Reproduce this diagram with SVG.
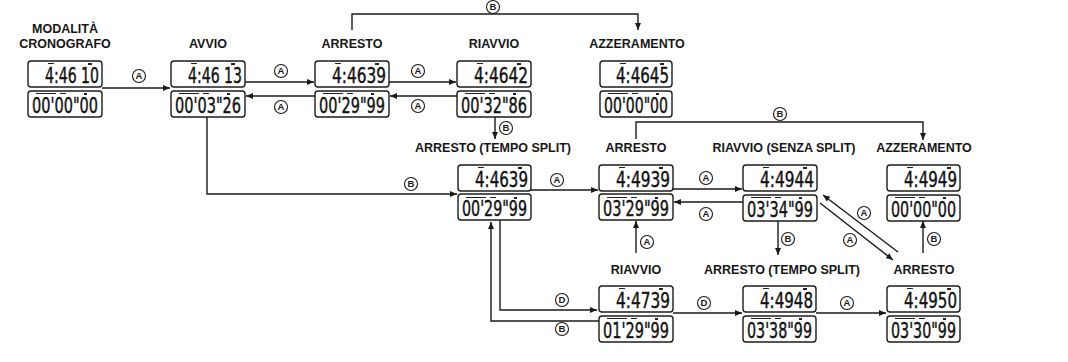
<svg xmlns="http://www.w3.org/2000/svg" width="1068" height="362" viewBox="0 0 1068 362">
<style>
.lbl{font-family:"Liberation Sans",Arial,sans-serif;font-weight:bold;font-size:12.5px;fill:#161616;text-anchor:middle}
.lcd{fill:#fff;stroke:#1c1c1c;stroke-width:1.4}
.dg{font-family:"DejaVu Sans Condensed","DejaVu Sans",sans-serif;font-size:21px;fill:#111;stroke:#111;stroke-width:0.4}
.ind{stroke:#222;stroke-width:1;fill:none}
.dot{fill:#222}
.ln{fill:none;stroke:#1a1a1a;stroke-width:1.4}
.bc{fill:#fff;stroke:#1a1a1a;stroke-width:1.1}
.bt{font-family:"Liberation Sans",Arial,sans-serif;font-size:9.5px;font-weight:bold;fill:#1a1a1a;text-anchor:middle}
</style>
<defs>
<marker id="ar" markerWidth="8" markerHeight="8" refX="7" refY="4" orient="auto" markerUnits="userSpaceOnUse">
<path d="M0,1 L7,4 L0,7 Z" fill="#1a1a1a"/>
</marker>
<g id="upind"><path class="ind" d="M20,2.5 h6"/><rect class="dot" x="60" y="2" width="4" height="2"/></g>
<g id="loind"><path class="ind" d="M8,32.5 h20 M32,32.5 h6"/><rect class="dot" x="56" y="32" width="3" height="2"/></g>
</defs>

<g id="connectors">
<path class="ln" marker-end="url(#ar)" d="M102,88 H170"/>
<path class="ln" marker-end="url(#ar)" d="M245,82 H314"/>
<path class="ln" marker-end="url(#ar)" d="M315,96 H246"/>
<path class="ln" marker-end="url(#ar)" d="M389,82 H456"/>
<path class="ln" marker-end="url(#ar)" d="M457,96 H390"/>
<path class="ln" marker-end="url(#ar)" d="M352,30 V14 H638 V30"/>
<path class="ln" marker-end="url(#ar)" d="M495,117 V139"/>
<path class="ln" marker-end="url(#ar)" d="M207,117 V194 H457"/>
<path class="ln" marker-end="url(#ar)" d="M531,190 H598"/>
<path class="ln" marker-end="url(#ar)" d="M636,139 V122 H923 V140"/>
<path class="ln" marker-end="url(#ar)" d="M673,189 H742"/>
<path class="ln" marker-end="url(#ar)" d="M743,202 H674"/>
<path class="ln" marker-end="url(#ar)" d="M778,220 V255"/>
<path class="ln" marker-end="url(#ar)" d="M820,203 L893,260"/>
<path class="ln" marker-end="url(#ar)" d="M898,252 L823,195"/>
<path class="ln" marker-end="url(#ar)" d="M923,253 V221"/>
<path class="ln" marker-end="url(#ar)" d="M636,253 V221"/>
<path class="ln" marker-end="url(#ar)" d="M500,220 V310 H597"/>
<path class="ln" marker-end="url(#ar)" d="M599,321 H491 V222"/>
<path class="ln" marker-end="url(#ar)" d="M673,313 H742"/>
<path class="ln" marker-end="url(#ar)" d="M816,313 H886"/>
<g id="btns">
<circle class="bc" cx="139" cy="76" r="6.5"/><text class="bt" x="139" y="79.4">A</text>
<circle class="bc" cx="281" cy="71" r="6.5"/><text class="bt" x="281" y="74.4">A</text>
<circle class="bc" cx="281" cy="107" r="6.5"/><text class="bt" x="281" y="110.4">A</text>
<circle class="bc" cx="418" cy="71" r="6.5"/><text class="bt" x="418" y="74.4">A</text>
<circle class="bc" cx="418" cy="106" r="6.5"/><text class="bt" x="418" y="109.4">A</text>
<circle class="bc" cx="493" cy="7" r="6.5"/><text class="bt" x="493" y="10.4">B</text>
<circle class="bc" cx="506" cy="128" r="6.5"/><text class="bt" x="506" y="131.4">B</text>
<circle class="bc" cx="411" cy="184" r="6.5"/><text class="bt" x="411" y="187.4">B</text>
<circle class="bc" cx="557" cy="180" r="6.5"/><text class="bt" x="557" y="183.4">A</text>
<circle class="bc" cx="780" cy="114" r="6.5"/><text class="bt" x="780" y="117.4">B</text>
<circle class="bc" cx="706" cy="178" r="6.5"/><text class="bt" x="706" y="181.4">A</text>
<circle class="bc" cx="706" cy="214" r="6.5"/><text class="bt" x="706" y="217.4">A</text>
<circle class="bc" cx="788" cy="239" r="6.5"/><text class="bt" x="788" y="242.4">B</text>
<circle class="bc" cx="850" cy="240" r="6.5"/><text class="bt" x="850" y="243.4">A</text>
<circle class="bc" cx="864" cy="213" r="6.5"/><text class="bt" x="864" y="216.4">A</text>
<circle class="bc" cx="934" cy="239" r="6.5"/><text class="bt" x="934" y="242.4">B</text>
<circle class="bc" cx="647" cy="242" r="6.5"/><text class="bt" x="647" y="245.4">A</text>
<circle class="bc" cx="562" cy="300" r="6.5"/><text class="bt" x="562" y="303.4">D</text>
<circle class="bc" cx="562" cy="329" r="6.5"/><text class="bt" x="562" y="332.4">B</text>
<circle class="bc" cx="704" cy="303" r="6.5"/><text class="bt" x="704" y="306.4">D</text>
<circle class="bc" cx="847" cy="303" r="6.5"/><text class="bt" x="847" y="306.4">A</text>
</g>
</g>

<g id="n1" transform="translate(28,61)">
<text class="lbl" x="37" y="-28">MODALITÀ</text><text class="lbl" x="37" y="-13">CRONOGRAFO</text>
<rect class="lcd" x="0" y="0" width="74" height="26" rx="3"/><use href="#upind"/>
<text class="dg" x="17" y="22" textLength="54" lengthAdjust="spacingAndGlyphs">4:46 10</text>
<rect class="lcd" x="0" y="30" width="74" height="26" rx="3"/><use href="#loind"/>
<text class="dg" x="4" y="52" textLength="66" lengthAdjust="spacingAndGlyphs">00'00"00</text>
</g>
<g id="n2" transform="translate(171,61)">
<text class="lbl" x="37" y="-13">AVVIO</text>
<rect class="lcd" x="0" y="0" width="74" height="26" rx="3"/><use href="#upind"/>
<text class="dg" x="17" y="22" textLength="54" lengthAdjust="spacingAndGlyphs">4:46 13</text>
<rect class="lcd" x="0" y="30" width="74" height="26" rx="3"/><use href="#loind"/>
<text class="dg" x="4" y="52" textLength="66" lengthAdjust="spacingAndGlyphs">00'03"26</text>
</g>
<g id="n3" transform="translate(315,61)">
<text class="lbl" x="37" y="-13">ARRESTO</text>
<rect class="lcd" x="0" y="0" width="74" height="26" rx="3"/><use href="#upind"/>
<text class="dg" x="17" y="22" textLength="54" lengthAdjust="spacingAndGlyphs">4:4639</text>
<rect class="lcd" x="0" y="30" width="74" height="26" rx="3"/><use href="#loind"/>
<text class="dg" x="4" y="52" textLength="66" lengthAdjust="spacingAndGlyphs">00'29"99</text>
</g>
<g id="n4" transform="translate(457,61)">
<text class="lbl" x="37" y="-13">RIAVVIO</text>
<rect class="lcd" x="0" y="0" width="74" height="26" rx="3"/><use href="#upind"/>
<text class="dg" x="17" y="22" textLength="54" lengthAdjust="spacingAndGlyphs">4:4642</text>
<rect class="lcd" x="0" y="30" width="74" height="26" rx="3"/><use href="#loind"/>
<text class="dg" x="4" y="52" textLength="66" lengthAdjust="spacingAndGlyphs">00'32"86</text>
</g>
<g id="n5" transform="translate(600,61)">
<text class="lbl" x="37" y="-13">AZZERAMENTO</text>
<rect class="lcd" x="0" y="0" width="72" height="26" rx="3"/><use href="#upind"/>
<text class="dg" x="16" y="22" textLength="53" lengthAdjust="spacingAndGlyphs">4:4645</text>
<rect class="lcd" x="0" y="30" width="72" height="26" rx="3"/><use href="#loind"/>
<text class="dg" x="4" y="52" textLength="64" lengthAdjust="spacingAndGlyphs">00'00"00</text>
</g>
<g id="n6" transform="translate(458,165)">
<text class="lbl" x="35" y="-13">ARRESTO (TEMPO SPLIT)</text>
<rect class="lcd" x="0" y="0" width="73" height="26" rx="3"/><use href="#upind"/>
<text class="dg" x="17" y="22" textLength="53" lengthAdjust="spacingAndGlyphs">4:4639</text>
<rect class="lcd" x="0" y="29" width="73" height="26" rx="3"/><use href="#loind"/>
<text class="dg" x="4" y="51" textLength="65" lengthAdjust="spacingAndGlyphs">00'29"99</text>
</g>
<g id="n7" transform="translate(599,165)">
<text class="lbl" x="37" y="-13">ARRESTO</text>
<rect class="lcd" x="0" y="0" width="74" height="26" rx="3"/><use href="#upind"/>
<text class="dg" x="17" y="22" textLength="54" lengthAdjust="spacingAndGlyphs">4:4939</text>
<rect class="lcd" x="0" y="29" width="74" height="26" rx="3"/><use href="#loind"/>
<text class="dg" x="4" y="51" textLength="66" lengthAdjust="spacingAndGlyphs">03'29"99</text>
</g>
<g id="n8" transform="translate(743,165)">
<text class="lbl" x="41" y="-13">RIAVVIO (SENZA SPLIT)</text>
<rect class="lcd" x="0" y="0" width="74" height="26" rx="3"/><use href="#upind"/>
<text class="dg" x="17" y="22" textLength="54" lengthAdjust="spacingAndGlyphs">4:4944</text>
<rect class="lcd" x="0" y="30" width="74" height="26" rx="3"/><use href="#loind"/>
<text class="dg" x="4" y="52" textLength="66" lengthAdjust="spacingAndGlyphs">03'34"99</text>
</g>
<g id="n9" transform="translate(887,165)">
<text class="lbl" x="37" y="-13">AZZERAMENTO</text>
<rect class="lcd" x="0" y="0" width="73" height="26" rx="3"/><use href="#upind"/>
<text class="dg" x="17" y="22" textLength="53" lengthAdjust="spacingAndGlyphs">4:4949</text>
<rect class="lcd" x="0" y="30" width="73" height="26" rx="3"/><use href="#loind"/>
<text class="dg" x="4" y="52" textLength="65" lengthAdjust="spacingAndGlyphs">00'00"00</text>
</g>
<g id="n10" transform="translate(887,286)">
<text class="lbl" x="37" y="-12">ARRESTO</text>
<rect class="lcd" x="0" y="0" width="73" height="26" rx="3"/><use href="#upind"/>
<text class="dg" x="17" y="22" textLength="53" lengthAdjust="spacingAndGlyphs">4:4950</text>
<rect class="lcd" x="0" y="30" width="73" height="26" rx="3"/><use href="#loind"/>
<text class="dg" x="4" y="52" textLength="65" lengthAdjust="spacingAndGlyphs">03'30"99</text>
</g>
<g id="n11" transform="translate(599,286)">
<text class="lbl" x="37" y="-12">RIAVVIO</text>
<rect class="lcd" x="0" y="0" width="74" height="26" rx="3"/><use href="#upind"/>
<text class="dg" x="17" y="22" textLength="54" lengthAdjust="spacingAndGlyphs">4:4739</text>
<rect class="lcd" x="0" y="30" width="74" height="26" rx="3"/><use href="#loind"/>
<text class="dg" x="4" y="52" textLength="66" lengthAdjust="spacingAndGlyphs">01'29"99</text>
</g>
<g id="n12" transform="translate(743,286)">
<text class="lbl" x="39" y="-12">ARRESTO (TEMPO SPLIT)</text>
<rect class="lcd" x="0" y="0" width="73" height="26" rx="3"/><use href="#upind"/>
<text class="dg" x="17" y="22" textLength="53" lengthAdjust="spacingAndGlyphs">4:4948</text>
<rect class="lcd" x="0" y="30" width="73" height="26" rx="3"/><use href="#loind"/>
<text class="dg" x="4" y="52" textLength="65" lengthAdjust="spacingAndGlyphs">03'38"99</text>
</g>
</svg>
